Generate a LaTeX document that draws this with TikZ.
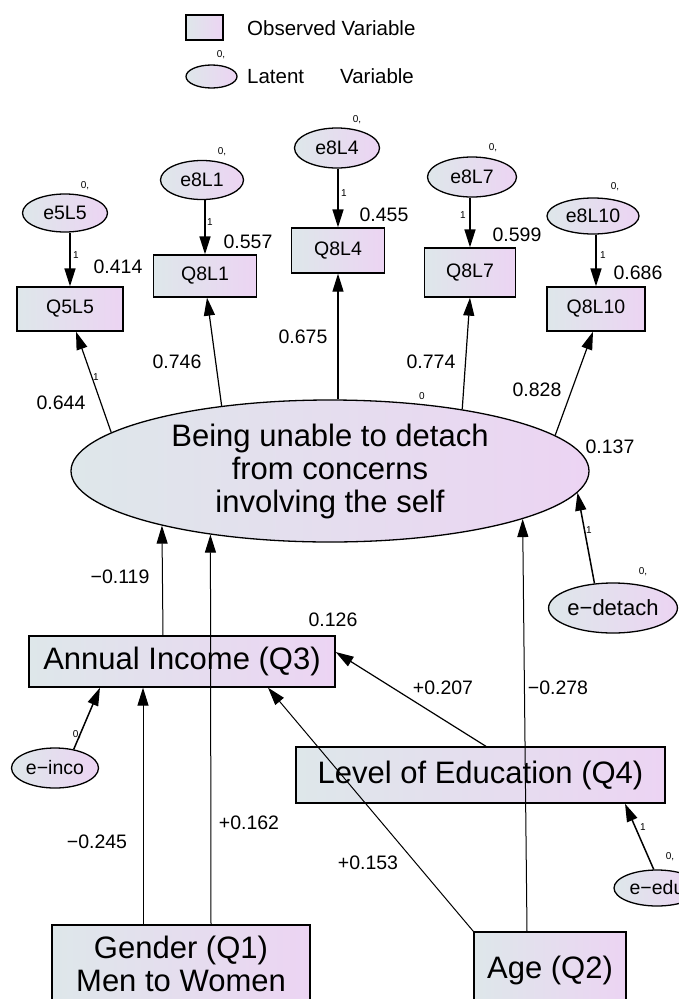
\documentclass[tikz,border=0pt]{standalone}
\usepackage{fontspec}
\setmainfont{Liberation Sans}
\usetikzlibrary{arrows.meta,shapes.geometric,calc}
\definecolor{shadeL}{RGB}{222,231,234}
\definecolor{shadeR}{RGB}{236,212,243}
\begin{document}
\begin{tikzpicture}[x=1pt,y=-1pt,
  obs/.style={draw, line width=1.3pt, rectangle, inner sep=0pt, left color=shadeL, right color=shadeR, align=center},
  lat/.style={draw, line width=1.3pt, ellipse, inner sep=0pt, left color=shadeL, right color=shadeR, align=center},
  small/.style={font=\fontsize{19.5}{21}\selectfont},
  legfont/.style={font=\fontsize{20.5}{22}\selectfont},
  big/.style={font=\fontsize{31}{33}\selectfont},
  tiny/.style={font=\fontsize{10}{11}\selectfont, inner sep=0pt},
  coef/.style={font=\fontsize{19.5}{21}\selectfont, inner sep=0pt},
  tip/.style={-{Triangle[length=18pt,width=11pt]}},
  errarr/.style={tip, line width=1.5pt},
  loadarr/.style={tip, line width=1.2pt},
  patharr/.style={tip, line width=1pt}]
\useasboundingbox (0,0) rectangle (679,999);
% legend
\node[obs, minimum width=37pt, minimum height=25pt] (legbox) at (204.5,27.5) {};
\node[lat, minimum width=51pt, minimum height=23pt] (legell) at (211.5,76.5) {};
\node[legfont, anchor=west, inner sep=0pt] (legt1) at (247,28) {Observed Variable};
\node[legfont, anchor=west, inner sep=0pt] (legt2) at (247,76) {Latent\hspace{36pt}Variable};
\node[tiny] (leg0) at (221,55) {0,};
% error terms of indicators
\node[lat, small, minimum width=85pt, minimum height=38pt] (e5L5) at (65,213) {e5L5};
\node[lat, small, minimum width=83pt, minimum height=39pt] (e8L1) at (202,180) {e8L1};
\node[lat, small, minimum width=85pt, minimum height=40pt] (e8L4) at (337,148) {e8L4};
\node[lat, small, minimum width=89pt, minimum height=40pt] (e8L7) at (472,177) {e8L7};
\node[lat, small, minimum width=92pt, minimum height=36pt] (e8L10) at (593,216) {e8L10};
% indicators
\node[obs, small, minimum width=106pt, minimum height=44pt] (Q5L5) at (70,309) {Q5L5};
\node[obs, small, minimum width=103pt, minimum height=42pt] (Q8L1) at (205,276) {Q8L1};
\node[obs, small, minimum width=93pt, minimum height=45pt] (Q8L4) at (338,250.5) {Q8L4};
\node[obs, small, minimum width=91pt, minimum height=49pt] (Q8L7) at (470,272.5) {Q8L7};
\node[obs, small, minimum width=98pt, minimum height=44pt] (Q8L10) at (596,309) {Q8L10};
% latent factor
\node[lat, big, minimum width=518pt, minimum height=142pt] (F) at (330,471) {Being unable to detach\\from concerns\\involving the self};
\node[lat, font=\fontsize{22}{24}\selectfont, minimum width=127pt, minimum height=50pt] (edet) at (613,608) {e−detach};
% observed predictors
\node[obs, big, minimum width=306pt, minimum height=51pt] (AI) at (182,661.5) {Annual Income (Q3)};
\node[lat, small, minimum width=87pt, minimum height=40pt] (einco) at (55,768) {e−inco};
\node[obs, big, minimum width=369pt, minimum height=56pt] (LoE) at (480.5,775) {Level of Education (Q4)};
\node[lat, small, minimum width=86pt, minimum height=36pt] (eedu) at (657,888) {e−edu};
\node[obs, big, minimum width=258pt, minimum height=78pt] (G) at (181,964) {Gender (Q1)\\Men to Women};
\node[obs, big, minimum width=152pt, minimum height=76pt] (Age) at (550,970) {Age (Q2)};
% error arrows to indicators
\draw[errarr] (e5L5.south -| Q5L5.north) -- (Q5L5.north);
\draw[errarr] (e8L1.south -| Q8L1.north) -- (Q8L1.north);
\draw[errarr] (e8L4.south -| Q8L4.north) -- (Q8L4.north);
\draw[errarr] (e8L7.south -| Q8L7.north) -- (Q8L7.north);
\draw[errarr] (e8L10.south -| Q8L10.north) -- (Q8L10.north);
% loadings
\draw[loadarr] (F.170.3) -- ([xshift=6pt]Q5L5.south);
\draw[loadarr] (F.149.3) -- ([xshift=2pt]Q8L1.south);
\draw[loadarr] (Q8L4.south |- F.north) -- (Q8L4.south);
\draw[loadarr] (F.25.9) -- (Q8L7.south);
\draw[loadarr] (F.9.1) -- ([xshift=-3pt]Q8L10.south);
% disturbance of factor
\draw[errarr] (edet.127) -- (F.-5.5);
% structural paths
\draw[patharr] ([xshift=-19pt]AI.north) -- (F.198);
\draw[patharr] ([xshift=30pt]G.north) -- (F.208);
\draw[patharr] ([xshift=-38pt]G.north) -- ([xshift=-39pt]AI.south);
\draw[patharr] ([xshift=-23pt]Age.north) -- (F.-14.5);
\draw[patharr] (Age.north west) -- ([xshift=86pt]AI.south);
\draw[loadarr] ([xshift=5.5pt]LoE.north) -- ([yshift=9.5pt]AI.east);
\draw[errarr] (einco.45) -- ([xshift=-82pt]AI.south);
\draw[errarr] (eedu.100) -- ([xshift=144.5pt]LoE.south);
% small labels
\node[tiny] (z1) at (85,186) {0,};
\node[tiny] (z2) at (222,152) {0,};
\node[tiny] (z3) at (357,120) {0,};
\node[tiny] (z4) at (493,148) {0,};
\node[tiny] (z5) at (615,187) {0,};
\node[tiny] (z6) at (643,572) {0,};
\node[tiny] (z7) at (670,857) {0,};
\node[tiny] (z8) at (77,735) {0,};
\node[tiny] (zF) at (422,396) {0};
\node[tiny] (o1) at (76,255) {1};
\node[tiny] (o2) at (210,222) {1};
\node[tiny] (o3) at (344,193) {1};
\node[tiny] (o4) at (463,215) {1};
\node[tiny] (o5) at (603,255) {1};
\node[tiny] (o6) at (96,377) {1};
\node[tiny] (o7) at (589,530) {1};
\node[tiny] (o8) at (643,827) {1};
% coefficients
\node[coef] (c1) at (118,267) {0.414};
\node[coef] (c2) at (248,242) {0.557};
\node[coef] (c3) at (384,215) {0.455};
\node[coef] (c4) at (517,235) {0.599};
\node[coef] (c5) at (638,273) {0.686};
\node[coef] (c6) at (61,403) {0.644};
\node[coef] (c7) at (177,362) {0.746};
\node[coef] (c8) at (303,337) {0.675};
\node[coef] (c9) at (431,362) {0.774};
\node[coef] (c10) at (537,390) {0.828};
\node[coef] (c11) at (610,447) {0.137};
\node[coef] (c12) at (120,577) {−0.119};
\node[coef] (c13) at (333,620) {0.126};
\node[coef] (c14) at (443,688) {+0.207};
\node[coef] (c15) at (558,688) {−0.278};
\node[coef] (c16) at (97,842) {−0.245};
\node[coef] (c17) at (249,823) {+0.162};
\node[coef] (c18) at (368,863) {+0.153};
\end{tikzpicture}
\end{document}
